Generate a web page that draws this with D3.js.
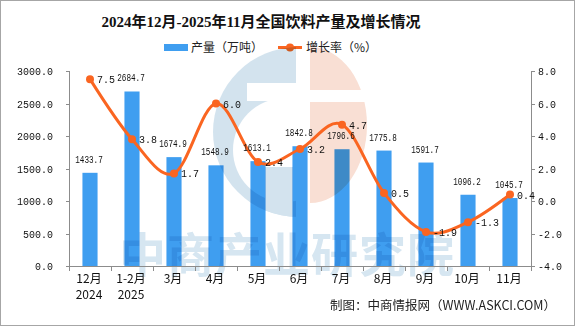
<!DOCTYPE html>
<html><head><meta charset="utf-8">
<script src="https://cdn.jsdelivr.net/npm/d3@7/dist/d3.min.js"></script>
<style>
html,body{margin:0;padding:0;background:#fff;}
svg{display:block;}
</style></head>
<body>
<svg id="chart" width="575" height="326"></svg>
<script>
const categories = ["12月","1-2月","3月","4月","5月","6月","7月","8月","9月","10月","11月"];
const years = ["2024","2025","","","","","","","","",""];
const production = [1433.7,2684.7,1674.9,1548.9,1613.1,1842.8,1796.6,1775.8,1591.7,1096.2,1045.7];
const growth = [7.5,3.8,1.7,6.0,2.4,3.2,4.7,0.5,-1.9,-1.3,0.4];
const leftTicks = [0,500,1000,1500,2000,2500,3000];
const rightTicks = [-4,-2,0,2,4,6,8];
const title = "2024年12月-2025年11月全国饮料产量及增长情况";
const legendNames = ["产量（万吨）","增长率（%）"];
const source = "制图：中商情报网（WWW.ASKCI.COM）";
const watermark = "中商产业研究院";

const W = 575, H = 326;
const plot = {l:69, r:531, t:71, b:266};
const BLUE = "#3f9ef0", ORANGE = "#fa6521", AXIS = "#8c8c8c";
const MONO = "'Liberation Mono','DejaVu Sans Mono',monospace";
const CJK = "'Noto Sans CJK SC','Noto Sans',sans-serif";
const WMBLUE = "#d3e3ee", WMPINK = "#f9dfd4";

const svg = d3.select("#chart");
svg.append("rect").attr("x",0.5).attr("y",0.5).attr("width",W-1).attr("height",H-1)
  .attr("fill","#fff").attr("stroke","#a6a6a6");

const x = d3.scaleBand().domain(categories).range([plot.l, plot.r]).paddingInner(0.64).paddingOuter(0.32);
const xOuter = d3.scaleBand().domain(categories).range([plot.l, plot.r]).padding(0);
const yL = d3.scaleLinear().domain([0,3000]).range([plot.b, plot.t]);
const yR = d3.scaleLinear().domain([-4,8]).range([plot.b, plot.t]);
const fmt = v => d3.format(".1f")(v).replace("−","-");

// Title
svg.append("text").attr("x", 261).attr("y", 27).attr("text-anchor","middle")
  .attr("font-family","'Liberation Serif','Noto Sans CJK SC',serif").attr("font-weight","bold")
  .attr("font-size",15).attr("fill","#111").text(title);

// Legend
const lg = svg.append("g");
lg.append("rect").attr("x",164).attr("y",44).attr("width",24).attr("height",7).attr("fill",BLUE);
lg.append("text").attr("x",191).attr("y",52).attr("font-family",CJK).attr("font-size",12).attr("fill","#222").text(legendNames[0]);
lg.append("line").attr("x1",278).attr("x2",302).attr("y1",47.5).attr("y2",47.5).attr("stroke",ORANGE).attr("stroke-width",3);
lg.append("circle").attr("cx",290).attr("cy",47.5).attr("r",4).attr("fill",ORANGE);
lg.append("text").attr("x",306).attr("y",52).attr("font-family",CJK).attr("font-size",12).attr("fill","#222").text(legendNames[1]);

// Bars
svg.append("g").selectAll("rect").data(production).join("rect")
  .attr("x",(d,i)=>x(categories[i])).attr("width",x.bandwidth())
  .attr("y",d=>yL(d)).attr("height",d=>yL(0)-yL(d)).attr("fill",BLUE);

// Watermark (multiply)
const wm = svg.append("g").style("mix-blend-mode","multiply");
const defs = svg.append("defs");
const mask = defs.append("mask").attr("id","logoMask");
mask.append("rect").attr("x",0).attr("y",0).attr("width",W).attr("height",H).attr("fill","black");
mask.append("circle").attr("cx",298).attr("cy",132).attr("r",85).attr("fill","white");
mask.append("rect").attr("x",296).attr("y",0).attr("width",W).attr("height",H).attr("fill","black");
mask.append("circle").attr("cx",285).attr("cy",150).attr("r",52).attr("fill","black");
mask.append("rect").attr("x",247).attr("y",83).attr("width",60).attr("height",18).attr("fill","black");
const clip = defs.append("clipPath").attr("id","outerClip");
clip.append("circle").attr("cx",298).attr("cy",132).attr("r",85);
wm.append("rect").attr("x",200).attr("y",40).attr("width",100).attr("height",200).attr("fill",WMBLUE).attr("mask","url(#logoMask)");
wm.append("rect").attr("x",265).attr("y",167).attr("width",28).attr("height",80).attr("fill",WMBLUE).attr("clip-path","url(#outerClip)");
const pinkMask = defs.append("mask").attr("id","pinkMask");
pinkMask.append("rect").attr("x",0).attr("y",0).attr("width",W).attr("height",H).attr("fill","black");
pinkMask.append("rect").attr("x",310).attr("y",0).attr("width",200).attr("height",H).attr("fill","white");
pinkMask.append("rect").attr("x",300).attr("y",90).attr("width",100).attr("height",12).attr("fill","black");
wm.append("ellipse").attr("cx",310).attr("cy",125).attr("rx",57).attr("ry",78).attr("fill",WMPINK).attr("mask","url(#pinkMask)");
wm.append("text").attr("x",287).attr("y",272).attr("text-anchor","middle")
  .attr("font-family",CJK).attr("font-weight","bold").attr("font-size",47).attr("letter-spacing",1)
  .attr("fill","#d6e6f1").text(watermark);

// Axes
const ax = svg.append("g").attr("stroke",AXIS).attr("stroke-width",1).attr("fill","none");
ax.append("line").attr("x1",plot.l+0.5).attr("x2",plot.l+0.5).attr("y1",plot.t).attr("y2",plot.b);
ax.append("line").attr("x1",plot.r+0.5).attr("x2",plot.r+0.5).attr("y1",plot.t).attr("y2",plot.b);
ax.append("line").attr("x1",plot.l).attr("x2",plot.r+1).attr("y1",plot.b+0.5).attr("y2",plot.b+0.5);
leftTicks.forEach(t=>{ ax.append("line").attr("x1",plot.l-3).attr("x2",plot.l).attr("y1",Math.round(yL(t))+0.5).attr("y2",Math.round(yL(t))+0.5); });
rightTicks.forEach(t=>{ ax.append("line").attr("x1",plot.r+1).attr("x2",plot.r+4).attr("y1",Math.round(yR(t))+0.5).attr("y2",Math.round(yR(t))+0.5); });
categories.concat([null]).forEach((c)=>{
  const xx = c===null ? plot.r : xOuter(c);
  ax.append("line").attr("x1",Math.round(xx)+0.5).attr("x2",Math.round(xx)+0.5).attr("y1",plot.b).attr("y2",plot.b+5);
});

const tl = svg.append("g").attr("font-family",MONO).attr("font-size",11).attr("fill","#111");
leftTicks.forEach(t=>{ const s=fmt(t); tl.append("text").attr("x",53).attr("y",yL(t)+4).attr("text-anchor","end")
  .attr("textLength",s.length*6).attr("lengthAdjust","spacingAndGlyphs").text(s); });
rightTicks.forEach(t=>{ const s=fmt(t); tl.append("text").attr("x",538).attr("y",yR(t)+4)
  .attr("textLength",s.length*6).attr("lengthAdjust","spacingAndGlyphs").text(s); });

const xl = svg.append("g").attr("font-family",CJK).attr("font-size",12).attr("fill","#111").attr("text-anchor","middle");
categories.forEach((c,i)=>{
  const cx = x(c)+x.bandwidth()/2 - 1;
  xl.append("text").attr("x",cx).attr("y",283).text(c);
  if (years[i]) xl.append("text").attr("x",cx).attr("y",299).text(years[i]);
});

// Line
const pts = growth.map((g,i)=>[x(categories[i])+x.bandwidth()/2, yR(g)]);
svg.append("path").attr("d", d3.line().curve(d3.curveCardinal.tension(0))(pts))
  .attr("fill","none").attr("stroke",ORANGE).attr("stroke-width",3);
svg.append("g").selectAll("circle").data(pts).join("circle")
  .attr("cx",d=>d[0]).attr("cy",d=>d[1]).attr("r",4).attr("fill",ORANGE);

// Data labels
const dl = svg.append("g").attr("font-family",MONO).attr("fill","#111");
production.forEach((v,i)=>{
  const s = fmt(v);
  dl.append("text").attr("x",x(categories[i])+x.bandwidth()/2 - 1).attr("y",yL(v)-10)
    .attr("text-anchor","middle").attr("font-size",11)
    .attr("textLength",s.length*4.6).attr("lengthAdjust","spacingAndGlyphs").text(s);
});
growth.forEach((g,i)=>{
  const s = fmt(g);
  dl.append("text").attr("x",pts[i][0]+7).attr("y",pts[i][1]+4).attr("font-size",11)
    .attr("textLength",s.length*6).attr("lengthAdjust","spacingAndGlyphs").text(s);
});

// Source
svg.append("text").attr("x",556).attr("y",310).attr("text-anchor","end")
  .attr("font-family",CJK).attr("font-size",12.5).attr("fill","#222").text(source);
</script>
</body></html>
